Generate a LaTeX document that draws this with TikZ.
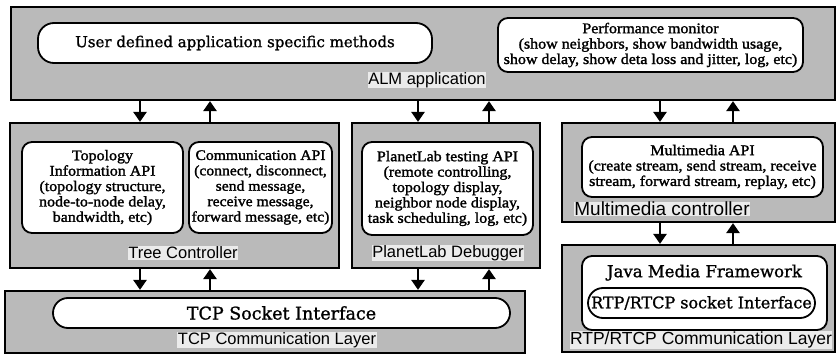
\documentclass[tikz,border=0pt]{standalone}
\usepackage{fontspec}
\setmainfont{Liberation Serif}[FakeStretch=1.08,FakeBold=1.6]
\newfontfamily\lblfont{Liberation Sans}
\newfontfamily\hdfont{DejaVu Serif}[FakeBold=1.2]
\usetikzlibrary{arrows.meta}
\begin{document}
\begin{tikzpicture}[x=1pt,y=-1pt,
  layer/.style={draw=black, line width=2.2pt, fill=black!27, inner sep=0pt},
  api/.style={draw=black, line width=1.8pt, fill=white, rounded corners=10pt, align=center, inner sep=0pt,
    font=\fontsize{14.8}{15.4}\selectfont},
  hd/.style={font=\hdfont\fontsize{#1}{18}\selectfont},
  lbl/.style={font=\lblfont\fontsize{#1}{18}\selectfont, fill=black!8, inner sep=0.5pt},
  lbl/.default=16.5,
  arr/.style={line width=2.8pt, -{Triangle[length=10pt,width=13pt]}}]
\useasboundingbox (0,0) rectangle (838,355);
\fill[white] (0,0) rectangle (838,355);
% layers
\node[layer, minimum width=824pt, minimum height=93pt] (alm) at (423,53.5) {};
\node[layer, minimum width=329pt, minimum height=145pt] (tree) at (174.5,195.5) {};
\node[layer, minimum width=188pt, minimum height=145pt] (planet) at (446,195.5) {};
\node[layer, minimum width=273pt, minimum height=99pt] (mm) at (698.5,172.5) {};
\node[layer, minimum width=520pt, minimum height=62pt] (tcp) at (265,322) {};
\node[layer, minimum width=273pt, minimum height=107pt] (rtp) at (698.5,298.5) {};
% ALM
\node[api, rounded corners=16pt, minimum width=394pt, minimum height=40pt, hd=15] (user) at (235,43) {User defined application specific methods};
\node[api, minimum width=305pt, minimum height=54pt] (perf) at (650.5,45)
  {Performance monitor\\(show neighbors, show bandwidth usage,\\show delay, show deta loss and jitter, log, etc)};
\node[lbl] (almlbl) at (427,80) {ALM application};
% tree controller
\node[api, minimum width=161pt, minimum height=91pt] (topo) at (102.5,187.5)
  {Topology\\Information API\\(topology structure,\\node-to-node delay,\\bandwidth, etc)};
\node[api, minimum width=143pt, minimum height=91pt, font=\fontsize{14.5}{15.4}\selectfont] (comm) at (260.5,187.5)
  {Communication API\\(connect, disconnect,\\send message,\\receive message,\\forward message, etc)};
\node[lbl] (treelbl) at (183,253) {Tree Controller};
% planetlab
\node[api, minimum width=171pt, minimum height=93pt] (papi) at (447.5,188.5)
  {PlanetLab testing API\\(remote controlling,\\topology display,\\neighbor node display,\\task scheduling, log, etc)};
\node[lbl] (planetlbl) at (448,253) {PlanetLab Debugger};
% multimedia
\node[api, minimum width=241pt, minimum height=60pt] (mmapi) at (702.5,167)
  {Multimedia API\\(create stream, send stream, receive\\stream, forward stream, replay, etc)};
\node[lbl=19] (mmlbl) at (662,209) {Multimedia controller};
% tcp
\node[api, rounded corners=15pt, minimum width=457pt, minimum height=30pt, hd=17.5] (tcpsock) at (281.5,313) {TCP Socket Interface};
\node[lbl] (tcplbl) at (277,340) {TCP Communication Layer};
% rtp
\node[api, minimum width=245pt, minimum height=74pt] (java) at (704.5,293) {};
\node[hd=16.5, anchor=north] (javalbl) at ([yshift=-6pt]java.north) {Java Media Framework};
\node[api, rounded corners=15pt, minimum width=227pt, minimum height=30pt, hd=16] (rtpsock) at (701.5,303) {RTP/RTCP socket Interface};
\node[lbl=17.5] (rtplbl) at (701,340) {RTP/RTCP Communication Layer};
% arrow columns
\coordinate (c1) at (140,0);
\coordinate (c2) at (210,0);
\coordinate (c3) at (418,0);
\coordinate (c4) at (489,0);
\coordinate (c5) at (660,0);
\coordinate (c6) at (733,0);
\draw[arr] (alm.south -| c1) -- (tree.north -| c1);
\draw[arr] (tree.north -| c2) -- (alm.south -| c2);
\draw[arr] (alm.south -| c3) -- (planet.north -| c3);
\draw[arr] (planet.north -| c4) -- (alm.south -| c4);
\draw[arr] (alm.south -| c5) -- (mm.north -| c5);
\draw[arr] (mm.north -| c6) -- (alm.south -| c6);
\draw[arr] (tree.south -| c1) -- (tcp.north -| c1);
\draw[arr] (tcp.north -| c2) -- (tree.south -| c2);
\draw[arr] (planet.south -| c3) -- (tcp.north -| c3);
\draw[arr] (tcp.north -| c4) -- (planet.south -| c4);
\draw[arr] (mm.south -| c5) -- (rtp.north -| c5);
\draw[arr] (rtp.north -| c6) -- (mm.south -| c6);
\end{tikzpicture}
\end{document}
